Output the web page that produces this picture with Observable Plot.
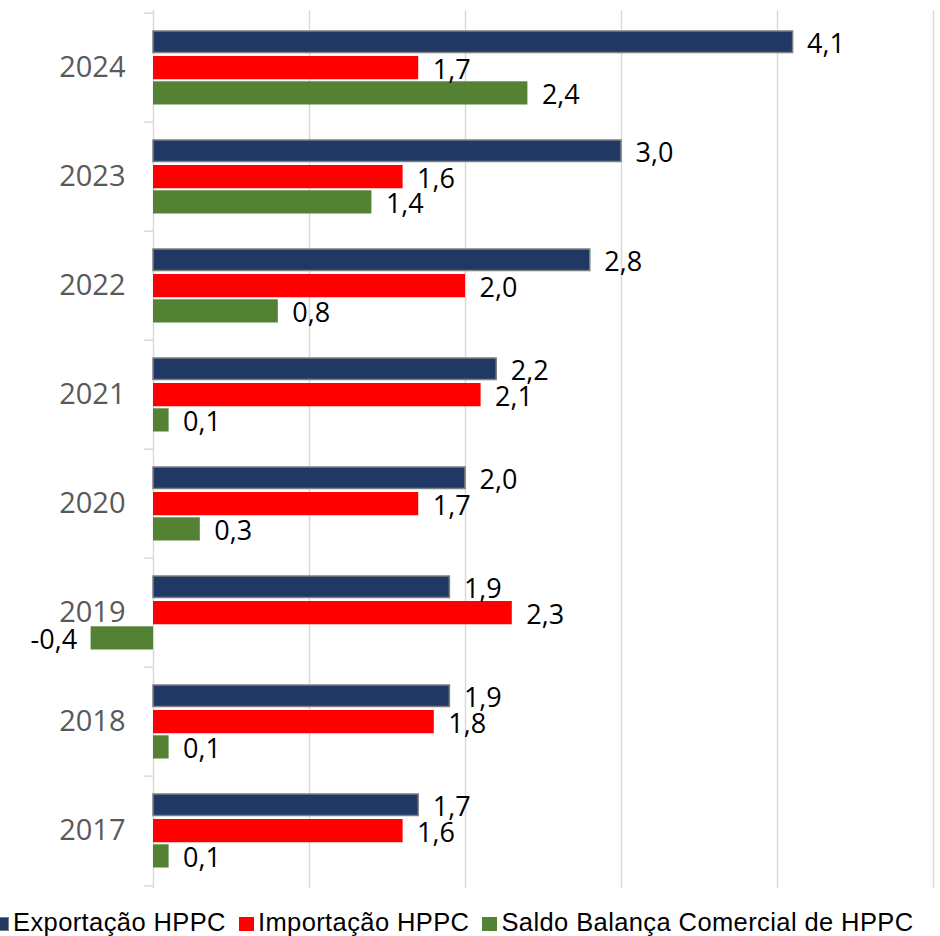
<!DOCTYPE html>
<html><head><meta charset="utf-8">
<script src="https://cdn.jsdelivr.net/npm/d3@7"></script>
<script src="https://cdn.jsdelivr.net/npm/@observablehq/plot@0.6"></script>
<style>
html,body{margin:0;padding:0;background:#fff;width:940px;height:936px;overflow:hidden;position:relative}
#chart{position:absolute;left:0;top:0}
#legend{position:absolute;left:-6px;top:907px;display:flex;align-items:center;white-space:nowrap;font-family:"Liberation Sans",Arial,sans-serif;font-size:25.5px;letter-spacing:0.4px;color:#000;line-height:30px}
.item{display:flex;align-items:center;margin-right:13px}
.sw{width:15px;height:14px;margin-right:4px;margin-top:3px}
</style></head><body>
<div id="chart"></div><div id="legend"></div>
<script>
const years = ["2024","2023","2022","2021","2020","2019","2018","2017"];
const exportacao = [4.1,3.0,2.8,2.2,2.0,1.9,1.9,1.7];
const importacao = [1.7,1.6,2.0,2.1,1.7,2.3,1.8,1.6];
const saldo = [2.4,1.4,0.8,0.1,0.3,-0.4,0.1,0.1];
const seriesNames = ["Exportação HPPC","Importação HPPC","Saldo Balança Comercial de HPPC"];
const seriesColors = ["#203864","#ff0000","#548235"];
const gridTicks = [1,2,3,4,5];

const rows = years.map((year,i)=>({year, exp: exportacao[i], imp: importacao[i], sal: saldo[i]}));
const fmt = v => v.toFixed(1).replace(".", ",");
const band = 109.75, half = band/2;
const labelFont = "'Open Sans', 'DejaVu Sans', sans-serif";
const valSize = 27;

const chart = Plot.plot({
  width: 940, height: 896,
  marginTop: 10, marginBottom: 8, marginLeft: 153, marginRight: 7,
  x: {domain: [0,5], axis: null},
  y: {domain: years, padding: 0, label: null},
  marks: [
    Plot.ruleX(gridTicks, {stroke:"#d9d9d9", strokeWidth:1.5}),
    Plot.ruleX([0], {stroke:"#d9d9d9", strokeWidth:1.5}),
    Plot.axisY({tickSize:0, tickPadding:28, fontSize:29, color:"#595959", fontFamily:labelFont, label:null}),
    Plot.axisY({tickSize:9, text:null, stroke:"#d9d9d9", strokeWidth:1.5, dy:-half, label:null}),
    Plot.axisY({ticks:[years[years.length-1]], tickSize:9, text:null, stroke:"#d9d9d9", strokeWidth:1.5, dy:half, label:null}),
    Plot.barX(rows, {x:"exp", y:"year", fill:seriesColors[0], stroke:"#7f7f7f", strokeWidth:1.5, insetTop:18, insetBottom:band-40.25}),
    Plot.barX(rows, {x:"imp", y:"year", fill:seriesColors[1], insetTop:43, insetBottom:band-67}),
    Plot.barX(rows, {x:"sal", y:"year", fill:seriesColors[2], insetTop:68.3, insetBottom:band-92.25}),
    Plot.text(rows, {x:"exp", y:"year", text:d=>fmt(d.exp), dx:14, dy:-23.75, textAnchor:"start", fontSize:valSize, fill:"#000", fontFamily:labelFont}),
    Plot.text(rows, {x:"imp", y:"year", text:d=>fmt(d.imp), dx:14, dy:2, textAnchor:"start", fontSize:valSize, fill:"#000", fontFamily:labelFont}),
    Plot.text(rows.filter(d=>d.sal>=0), {x:"sal", y:"year", text:d=>fmt(d.sal), dx:14, dy:27.4, textAnchor:"start", fontSize:valSize, fill:"#000", fontFamily:labelFont}),
    Plot.text(rows.filter(d=>d.sal<0), {x:"sal", y:"year", text:d=>fmt(d.sal), dx:-14, dy:27.4, textAnchor:"end", fontSize:valSize, fill:"#000", fontFamily:labelFont})
  ]
});
document.getElementById("chart").appendChild(chart);

const legend = document.getElementById("legend");
seriesNames.forEach((name,i)=>{
  const item = document.createElement("div"); item.className="item";
  const sw = document.createElement("div"); sw.className="sw"; sw.style.background=seriesColors[i];
  if(i===0) sw.style.boxShadow="inset 0 0 0 1px #7f7f7f";
  const t = document.createElement("span"); t.textContent=name;
  item.appendChild(sw); item.appendChild(t); legend.appendChild(item);
});
</script>
</body></html>
